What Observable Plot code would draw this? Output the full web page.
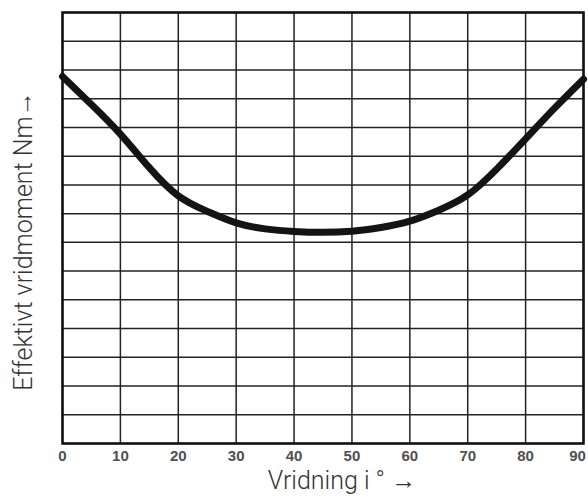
<!DOCTYPE html>
<html>
<head>
<meta charset="utf-8">
<script src="https://cdn.jsdelivr.net/npm/d3@7"></script>
<script src="https://cdn.jsdelivr.net/npm/@observablehq/plot@0.6"></script>
<style>
  html, body { margin: 0; padding: 0; background: #fff; }
</style>
</head>
<body>
<div id="chart"></div>
<script>
// Angle of twist (degrees)
const angles = [0, 5, 10, 15, 20, 25, 30, 35, 40, 45, 50, 55, 60, 65, 70, 75, 80, 85, 90];
// Effective torque (grid units, no scale given)
const torque = [12.77, 11.8, 10.77, 9.6, 8.62, 8.08, 7.68, 7.47, 7.38, 7.35, 7.39, 7.52, 7.74, 8.12, 8.65, 9.55, 10.6, 11.67, 12.68];
const xTicks = [0, 10, 20, 30, 40, 50, 60, 70, 80, 90];
const yGrid = [0, 1, 2, 3, 4, 5, 6, 7, 8, 9, 10, 11, 12, 13, 14, 15];
const xLabel = "Vridning i ° →";
const yLabel = "Effektivt vridmoment Nm→";

const data = angles.map((a, i) => ({angle: a, torque: torque[i]}));
const tickStyle = {frameAnchor: "bottom", dy: 17, fontSize: 15, fontWeight: "bold", fill: "#505050", fontFamily: "Liberation Sans"};

const chart = Plot.plot({
  width: 588,
  height: 501,
  marginTop: 12,
  marginBottom: 58,
  marginLeft: 62,
  marginRight: 5,
  style: {background: "#fff"},
  x: {domain: [0, 90], label: null, axis: null},
  y: {domain: [0, 15], label: null, axis: null},
  marks: [
    Plot.ruleX(xTicks, {stroke: "#222", strokeWidth: 1.5}),
    Plot.ruleY(yGrid, {stroke: "#222", strokeWidth: 1.5}),
    Plot.frame({stroke: "#111", strokeWidth: 2.5}),
    Plot.line(data, {x: "angle", y: "torque", curve: "natural", stroke: "#141414", strokeWidth: 7}),
    Plot.text(xTicks.slice(0, -1), {x: d => d, text: d => String(d), ...tickStyle}),
    Plot.text(xTicks.slice(-1), {x: d => d, text: d => String(d), ...tickStyle, dx: -6}),
    Plot.text([xLabel], {frameAnchor: "bottom", dx: 19, dy: 45, fontSize: 25, fontFamily: "Roboto", fontWeight: 300, fill: "#333"}),
    Plot.text([yLabel], {frameAnchor: "left", textAnchor: "middle", dx: -39, dy: 13, rotate: -90, fontSize: 25, fontFamily: "Roboto", fontWeight: 300, fill: "#333"})
  ]
});
document.getElementById("chart").appendChild(chart);
</script>
</body>
</html>
